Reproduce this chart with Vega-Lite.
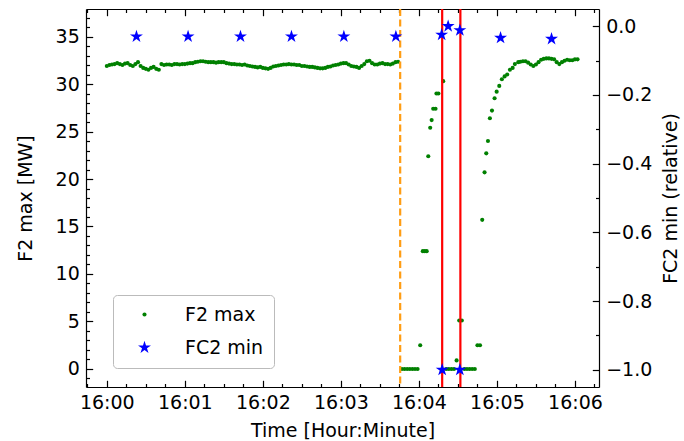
{
  "$schema": "https://vega.github.io/schema/vega-lite/v6.json",
  "width": 513,
  "height": 378,
  "autosize": {"type": "none"},
  "padding": {"left": 86, "top": 9, "right": 85, "bottom": 54},
  "background": "white",
  "config": {
    "view": {"stroke": null},
    "axis": {
      "labelFont": "DejaVu Sans", "titleFont": "DejaVu Sans",
      "labelFontSize": 19, "titleFontSize": 19,
      "labelColor": "#000", "titleColor": "#000", "titleFontWeight": "normal",
      "domainColor": "#000", "tickColor": "#000", "domainWidth": 1.2, "tickWidth": 1.2,
      "grid": false
    },
    "legend": {
      "labelFont": "DejaVu Sans", "labelFontSize": 19, "labelColor": "#000"
    }
  },
  "datasets": {
    "f2": [
      {"t":57600000,"f":31.9},{"t":57602000,"f":32.0},{"t":57604000,"f":32.05},{"t":57606000,"f":32.1},{"t":57608000,"f":32.2},
      {"t":57610000,"f":32.1},{"t":57612000,"f":32.0},{"t":57614000,"f":32.15},{"t":57616000,"f":32.2},{"t":57618000,"f":32.0},
      {"t":57620000,"f":31.9},{"t":57622000,"f":32.1},{"t":57624000,"f":32.3},{"t":57626000,"f":31.9},{"t":57628000,"f":31.7},
      {"t":57630000,"f":31.6},{"t":57632000,"f":31.5},{"t":57634000,"f":31.7},{"t":57636000,"f":31.8},{"t":57638000,"f":31.6},
      {"t":57640000,"f":31.5},{"t":57642000,"f":32.1},{"t":57644000,"f":32.0},{"t":57646000,"f":32.05},{"t":57648000,"f":32.05},
      {"t":57650000,"f":32.0},{"t":57652000,"f":32.1},{"t":57654000,"f":32.1},{"t":57656000,"f":32.05},{"t":57658000,"f":32.1},
      {"t":57660000,"f":32.1},{"t":57662000,"f":32.15},{"t":57664000,"f":32.2},{"t":57666000,"f":32.2},{"t":57668000,"f":32.3},
      {"t":57670000,"f":32.35},{"t":57672000,"f":32.4},{"t":57674000,"f":32.4},{"t":57676000,"f":32.35},{"t":57678000,"f":32.3},
      {"t":57680000,"f":32.3},{"t":57682000,"f":32.3},{"t":57684000,"f":32.25},{"t":57686000,"f":32.3},{"t":57688000,"f":32.3},
      {"t":57690000,"f":32.3},{"t":57692000,"f":32.2},{"t":57694000,"f":32.15},{"t":57696000,"f":32.1},{"t":57698000,"f":32.1},
      {"t":57700000,"f":32.05},{"t":57702000,"f":32.05},{"t":57704000,"f":32.0},{"t":57706000,"f":32.05},{"t":57708000,"f":31.95},
      {"t":57710000,"f":31.9},{"t":57712000,"f":31.85},{"t":57714000,"f":31.8},{"t":57716000,"f":31.75},{"t":57718000,"f":31.8},
      {"t":57720000,"f":31.7},{"t":57722000,"f":31.65},{"t":57724000,"f":31.6},{"t":57726000,"f":31.7},{"t":57728000,"f":31.85},
      {"t":57730000,"f":31.9},{"t":57732000,"f":31.95},{"t":57734000,"f":32.0},{"t":57736000,"f":32.05},{"t":57738000,"f":32.05},
      {"t":57740000,"f":32.1},{"t":57742000,"f":32.05},{"t":57744000,"f":32.05},{"t":57746000,"f":32.0},{"t":57748000,"f":32.0},
      {"t":57750000,"f":31.9},{"t":57752000,"f":31.9},{"t":57754000,"f":31.85},{"t":57756000,"f":31.8},{"t":57758000,"f":31.8},
      {"t":57760000,"f":31.75},{"t":57762000,"f":31.7},{"t":57764000,"f":31.65},{"t":57766000,"f":31.65},{"t":57768000,"f":31.7},
      {"t":57770000,"f":31.8},{"t":57772000,"f":31.85},{"t":57774000,"f":31.95},{"t":57776000,"f":32.0},{"t":57778000,"f":32.05},
      {"t":57780000,"f":32.15},{"t":57782000,"f":32.2},{"t":57784000,"f":32.2},{"t":57786000,"f":32.05},{"t":57788000,"f":31.9},
      {"t":57790000,"f":31.85},{"t":57792000,"f":31.8},{"t":57794000,"f":31.7},{"t":57796000,"f":31.9},{"t":57798000,"f":32.1},
      {"t":57800000,"f":32.4},{"t":57802000,"f":32.45},{"t":57804000,"f":32.2},{"t":57806000,"f":32.05},{"t":57808000,"f":32.05},
      {"t":57810000,"f":32.15},{"t":57812000,"f":32.2},{"t":57814000,"f":32.1},{"t":57816000,"f":32.1},{"t":57818000,"f":32.05},
      {"t":57820000,"f":32.15},{"t":57822000,"f":32.3},{"t":57824000,"f":32.35},
      {"t":57827000,"f":0},{"t":57829000,"f":0},{"t":57831000,"f":0},{"t":57833000,"f":0},{"t":57835000,"f":0},
      {"t":57837000,"f":0},{"t":57839000,"f":0},{"t":57841000,"f":2.5},{"t":57843000,"f":12.4},{"t":57844500,"f":12.4},
      {"t":57846000,"f":12.4},{"t":57847200,"f":22.4},{"t":57848700,"f":25.4},{"t":57849800,"f":26.2},{"t":57851000,"f":27.4},
      {"t":57852800,"f":27.4},{"t":57853500,"f":29.0},{"t":57855000,"f":29.0},{"t":57858700,"f":30.3},
      {"t":57861000,"f":0},{"t":57863000,"f":0},{"t":57865000,"f":0},{"t":57867000,"f":0},{"t":57869000,"f":0.9},
      {"t":57871000,"f":5.1},{"t":57873000,"f":5.1},{"t":57875000,"f":0},{"t":57877000,"f":0},{"t":57879000,"f":0},
      {"t":57881000,"f":0},{"t":57883000,"f":0},{"t":57885000,"f":2.5},{"t":57887000,"f":2.5},{"t":57888700,"f":15.7},
      {"t":57890500,"f":20.7},{"t":57891800,"f":22.7},{"t":57893100,"f":24.0},{"t":57894600,"f":26.4},{"t":57896200,"f":27.2},
      {"t":57898200,"f":28.5},{"t":57899800,"f":29.2},{"t":57901800,"f":29.8},{"t":57903800,"f":30.5},{"t":57905900,"f":30.8},
      {"t":57907900,"f":31.0},{"t":57910000,"f":31.5},{"t":57912100,"f":31.7},{"t":57913800,"f":32.1},{"t":57916400,"f":32.3},
      {"t":57918000,"f":32.35},{"t":57920000,"f":32.4},{"t":57922000,"f":32.4},{"t":57924000,"f":32.25},{"t":57926000,"f":32.05},
      {"t":57928000,"f":31.9},{"t":57930000,"f":32.05},{"t":57932000,"f":32.3},{"t":57934000,"f":32.55},{"t":57936000,"f":32.65},
      {"t":57938000,"f":32.7},{"t":57940000,"f":32.7},{"t":57942000,"f":32.65},{"t":57944000,"f":32.6},{"t":57946000,"f":32.3},
      {"t":57948000,"f":32.1},{"t":57950000,"f":32.3},{"t":57952000,"f":32.45},{"t":57954000,"f":32.55},{"t":57956000,"f":32.5},
      {"t":57958000,"f":32.5},{"t":57960000,"f":32.6},{"t":57962000,"f":32.6}
    ],
    "fc2": [
      {"t":57622800,"v":-0.03},{"t":57662500,"v":-0.03},{"t":57702800,"v":-0.03},{"t":57742000,"v":-0.03},
      {"t":57782300,"v":-0.03},{"t":57822300,"v":-0.03},{"t":57857500,"v":-0.025},{"t":57857900,"v":-1.0},
      {"t":57862500,"v":0.0},{"t":57871500,"v":-0.012},{"t":57871500,"v":-1.0},{"t":57902800,"v":-0.034},
      {"t":57942000,"v":-0.037}
    ]
  },
  "resolve": {"scale": {"y": "independent"}, "axis": {"x": "independent", "y": "independent"}},
  "layer": [
    {
      "data": {"name": "f2"},
      "mark": {"type": "point", "filled": true, "opacity": 1, "strokeWidth": 0},
      "encoding": {
        "x": {"field": "t", "type": "temporal",
          "scale": {"type": "utc", "domain": [57584000, 57978500]},
          "axis": {"orient": "bottom", "values": [57600000,57660000,57720000,57780000,57840000,57900000,57960000],
            "labelExpr": "utcFormat(datum.value, '%H:%M')", "tickSize": -6.7, "labelPadding": 13.4,
            "title": "Time [Hour:Minute]", "titlePadding": 9}},
        "y": {"field": "f", "type": "quantitative",
          "scale": {"domain": [-1.9, 37.9], "nice": false, "zero": false},
          "axis": {"orient": "left", "values": [0,5,10,15,20,25,30,35], "format": "d",
            "tickSize": -6.7, "labelPadding": 13.4, "title": "F2 max [MW]", "titlePadding": 20}},
        "color": {"datum": "F2 max", "type": "nominal",
          "scale": {"domain": ["F2 max", "FC2 min"], "range": ["#008000", "#0000ff"]},
          "legend": {"title": null, "orient": "none", "legendX": 27, "legendY": 286, "fillColor": "white",
            "strokeColor": "#bbbbbb", "cornerRadius": 4, "padding": 10, "symbolOffset": 12, "labelOffset": 31, "rowPadding": 13, "symbolStrokeWidth": 0}},
        "shape": {"datum": "F2 max", "type": "nominal",
          "scale": {"domain": ["F2 max", "FC2 min"], "range": ["circle", "M0,-1L0.2245,-0.309L0.951,-0.309L0.3633,0.118L0.588,0.809L0,0.382L-0.588,0.809L-0.3633,0.118L-0.951,-0.309L-0.2245,-0.309Z"]},
          "legend": {"title": null, "orient": "none", "legendX": 27, "legendY": 286, "fillColor": "white",
            "strokeColor": "#bbbbbb", "cornerRadius": 4, "padding": 10, "symbolOffset": 12, "labelOffset": 31, "rowPadding": 13, "symbolStrokeWidth": 0}},
        "size": {"datum": "F2 max", "type": "nominal",
          "scale": {"domain": ["F2 max", "FC2 min"], "range": [17, 185]},
          "legend": {"title": null, "orient": "none", "legendX": 27, "legendY": 286, "fillColor": "white",
            "strokeColor": "#bbbbbb", "cornerRadius": 4, "padding": 10, "symbolOffset": 12, "labelOffset": 31, "rowPadding": 13, "symbolStrokeWidth": 0}}
      }
    },
    {
      "data": {"values": [{"t": 57825600}]},
      "mark": {"type": "rule", "color": "#ff9d14", "strokeWidth": 2.2, "strokeDash": [7, 3.5]},
      "encoding": {"x": {"field": "t", "type": "temporal", "axis": null}}
    },
    {
      "data": {"values": [{"t": 57857900}, {"t": 57871900}]},
      "mark": {"type": "rule", "color": "#ff0000", "strokeWidth": 2.2},
      "encoding": {"x": {"field": "t", "type": "temporal", "axis": null}}
    },
    {
      "data": {"name": "fc2"},
      "mark": {"type": "point", "filled": true, "opacity": 1, "strokeWidth": 0},
      "encoding": {
        "x": {"field": "t", "type": "temporal", "axis": null},
        "y": {"field": "v", "type": "quantitative",
          "scale": {"domain": [-1.05, 0.05], "nice": false, "zero": false},
          "axis": {"orient": "right", "values": [-1,-0.8,-0.6,-0.4,-0.2,0], "format": ".1f",
            "tickSize": -6.7, "labelPadding": 13.4, "title": "FC2 min (relative)", "titleAngle": -90, "titlePadding": 29}},
        "color": {"datum": "FC2 min", "type": "nominal"},
        "shape": {"datum": "FC2 min", "type": "nominal"},
        "size": {"datum": "FC2 min", "type": "nominal"}
      }
    },
    {
      "data": {"name": "f2"},
      "mark": {"type": "point", "opacity": 0},
      "encoding": {
        "x": {"field": "t", "type": "temporal",
          "axis": {"orient": "bottom", "values": [57585000,57615000,57630000,57645000,57675000,57690000,57705000,57735000,57750000,57765000,57795000,57810000,57825000,57855000,57870000,57885000,57915000,57930000,57945000,57975000],
            "labels": false, "domain": false, "tickSize": -3.5, "title": null}},
        "y": {"field": "f", "type": "quantitative",
          "scale": {"domain": [-1.9, 37.9], "nice": false, "zero": false},
          "axis": {"orient": "left", "values": [-1,1,2,3,4,6,7,8,9,11,12,13,14,16,17,18,19,21,22,23,24,26,27,28,29,31,32,33,34,36,37],
            "labels": false, "domain": false, "tickSize": -3.5, "title": null}}
      }
    },
    {
      "data": {"name": "f2"},
      "mark": {"type": "point", "opacity": 0},
      "encoding": {
        "x": {"field": "t", "type": "temporal",
          "axis": {"orient": "top", "values": [57600000,57660000,57720000,57780000,57840000,57900000,57960000],
            "labels": false, "tickSize": -6.7, "title": null}},
        "y": {"field": "f", "type": "quantitative",
          "scale": {"domain": [-1.05, 0.05], "nice": false, "zero": false},
          "axis": {"orient": "right", "values": [-0.9,-0.7,-0.5,-0.3,-0.1],
            "labels": false, "domain": false, "tickSize": -3.5, "title": null}}
      }
    },
    {
      "data": {"name": "f2"},
      "mark": {"type": "point", "opacity": 0},
      "encoding": {
        "x": {"field": "t", "type": "temporal",
          "axis": {"orient": "top", "values": [57585000,57615000,57630000,57645000,57675000,57690000,57705000,57735000,57750000,57765000,57795000,57810000,57825000,57855000,57870000,57885000,57915000,57930000,57945000,57975000],
            "labels": false, "domain": false, "tickSize": -3.5, "title": null}}
      }
    }
  ]
}
